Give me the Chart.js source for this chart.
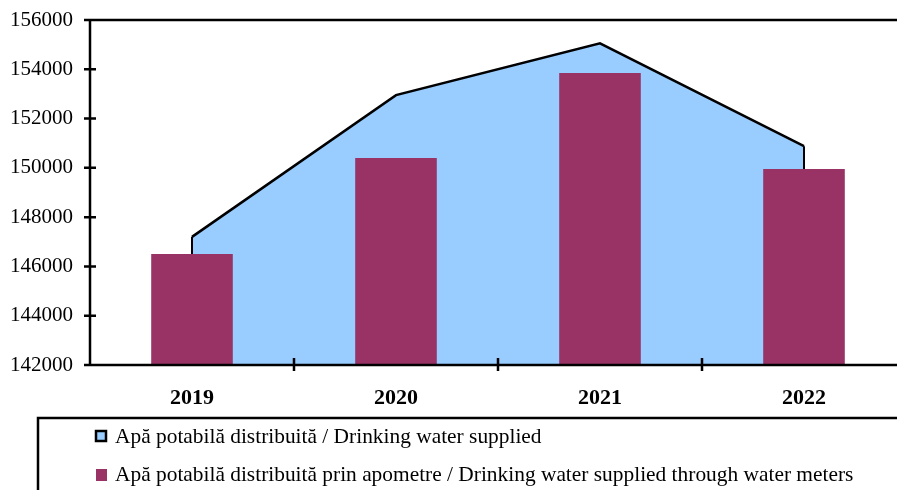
<!DOCTYPE html>
<html>
<head>
<meta charset="utf-8">
<script src="https://cdn.jsdelivr.net/npm/chart.js@4.4.1/dist/chart.umd.min.js"></script>
<style>
html,body{margin:0;padding:0;overflow:hidden;background:#fff;}
canvas{display:block;}
</style>
</head>
<body>
<canvas id="c" width="920" height="490"></canvas>
<script>
const categories = ['2019', '2020', '2021', '2022'];
const suppliedValues = [147200, 152950, 155050, 150880];
const metersValues = [146500, 150400, 153850, 149950];
const seriesLabels = [
  'Apă potabilă distribuită / Drinking water supplied',
  'Apă potabilă distribuită prin apometre / Drinking water supplied through water meters'
];
const yTickMin = 142000, yTickMax = 156000, yTickStep = 2000;

const FONT = '"Liberation Serif", "Times New Roman", serif';
const AREA_COLOR = '#99CCFF';
const BAR_COLOR = '#993366';

const framePlugin = {
  id: 'frame',
  afterDatasetDraw(chart, args) {
    if (args.index !== 0) return;
    const pts = args.meta.data;
    const bottom = chart.chartArea.bottom;
    const ctx = chart.ctx;
    ctx.save();
    ctx.strokeStyle = '#000';
    ctx.lineWidth = 2;
    ctx.beginPath();
    ctx.moveTo(pts[0].x, bottom);
    ctx.lineTo(pts[0].x, pts[0].y);
    ctx.moveTo(pts[pts.length - 1].x, pts[pts.length - 1].y);
    ctx.lineTo(pts[pts.length - 1].x, bottom);
    ctx.stroke();
    ctx.restore();
  },
  afterDatasetsDraw(chart) {
    const ctx = chart.ctx;
    const a = chart.chartArea;
    const y = chart.scales.y;
    const x = chart.scales.x;
    ctx.save();
    ctx.strokeStyle = '#000';
    ctx.lineWidth = 2.5;
    ctx.beginPath();
    ctx.moveTo(a.left, a.top); ctx.lineTo(a.right, a.top);
    ctx.lineTo(a.right, a.bottom);
    ctx.moveTo(a.left, a.top); ctx.lineTo(a.left, a.bottom); ctx.lineTo(a.right, a.bottom);
    y.ticks.forEach(t => {
      const py = y.getPixelForValue(t.value);
      ctx.moveTo(a.left - 6, py); ctx.lineTo(a.left + 6, py);
    });
    const n = categories.length;
    for (let i = 1; i < n; i++) {
      const px = (x.getPixelForValue(i - 1) + x.getPixelForValue(i)) / 2;
      ctx.moveTo(px, a.bottom - 7); ctx.lineTo(px, a.bottom + 6);
    }
    ctx.stroke();

    // legend box
    const lx = 38, ly = 418;
    ctx.lineWidth = 2.5;
    ctx.beginPath();
    ctx.moveTo(lx, 495); ctx.lineTo(lx, ly); ctx.lineTo(930, ly);
    ctx.stroke();
    ctx.font = '21.4px ' + FONT;
    ctx.textBaseline = 'middle';
    const ds = chart.data.datasets;
    const rows = [437, 475];
    ds.forEach((d, i) => {
      const yy = rows[i];
      ctx.fillStyle = d.backgroundColor;
      if (i === 0) {
        ctx.fillRect(96, yy - 6, 10, 10);
        ctx.lineWidth = 2.5;
        ctx.strokeStyle = '#000';
        ctx.strokeRect(96, yy - 6, 10, 10);
      } else {
        ctx.fillRect(96, yy - 6, 11, 12);
      }
      ctx.fillStyle = '#000';
      ctx.fillText(d.label, 115, yy);
    });
    ctx.restore();
  }
};

new Chart(document.getElementById('c'), {
  data: {
    labels: categories,
    datasets: [
      {
        type: 'line',
        label: seriesLabels[0],
        data: suppliedValues,
        backgroundColor: AREA_COLOR,
        borderColor: '#000',
        borderWidth: 2.5,
        fill: 'start',
        pointRadius: 0,
        tension: 0,
        order: 1
      },
      {
        type: 'bar',
        label: seriesLabels[1],
        data: metersValues,
        backgroundColor: BAR_COLOR,
        borderWidth: 0,
        barPercentage: 0.4,
        categoryPercentage: 1.0,
        order: 0
      }
    ]
  },
  options: {
    responsive: false,
    animation: false,
    layout: { padding: { left: 0, top: 20, right: 14, bottom: 0 } },
    plugins: { legend: { display: false }, tooltip: { enabled: false } },
    scales: {
      x: {
        offset: true,
        grid: { display: false, drawTicks: false },
        border: { display: false },
        ticks: { color: '#000', font: { family: FONT, size: 22, weight: 'bold' }, padding: 20, maxRotation: 0 },
        afterFit(s) { s.height = 125; s.paddingLeft = 0; s.paddingRight = 0; }
      },
      y: {
        min: yTickMin, max: yTickMax,
        grid: { display: false, drawTicks: false },
        border: { display: false },
        ticks: { stepSize: yTickStep, color: '#000', font: { family: FONT, size: 21 }, padding: 17,
                 callback: v => String(v) },
        afterFit(s) { s.width = 90; s.paddingTop = 0; s.paddingBottom = 0; }
      }
    }
  },
  plugins: [framePlugin]
});
</script>
</body>
</html>
